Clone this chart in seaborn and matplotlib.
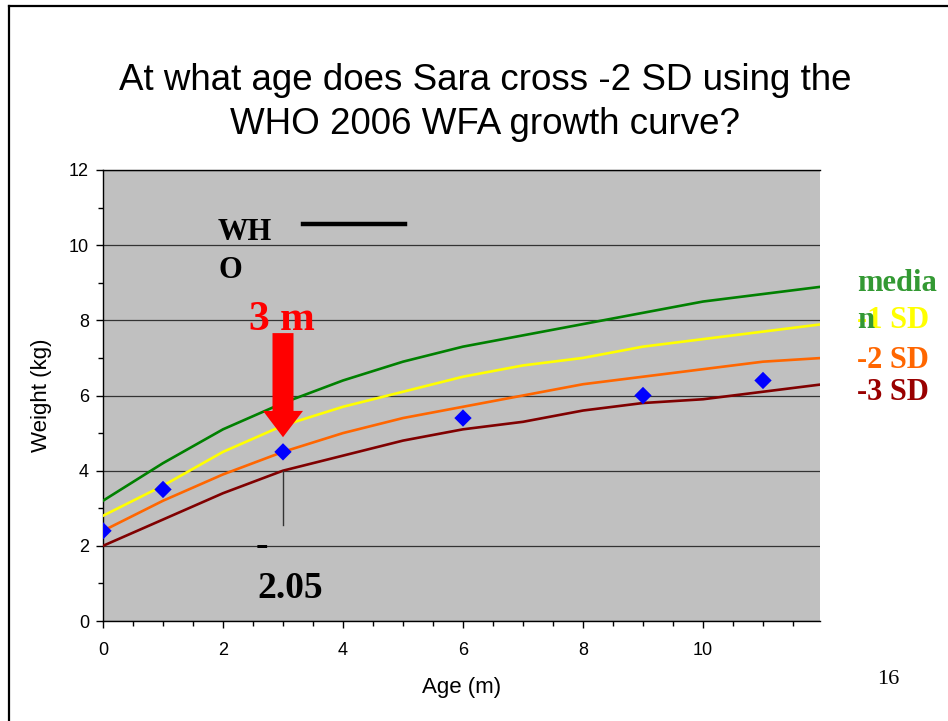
import numpy as np
import pandas as pd
import matplotlib
matplotlib.use("Agg")
import matplotlib.pyplot as plt
from matplotlib.patches import Polygon
from matplotlib.lines import Line2D
from matplotlib.ticker import MultipleLocator
import seaborn as sns

# ---------------- data ----------------
age_months = [0, 1, 2, 3, 4, 5, 6, 7, 8, 9, 10, 11, 12]
median = [3.2, 4.2, 5.1, 5.8, 6.4, 6.9, 7.3, 7.6, 7.9, 8.2, 8.5, 8.7, 8.9]
minus1sd = [2.8, 3.6, 4.5, 5.2, 5.7, 6.1, 6.5, 6.8, 7.0, 7.3, 7.5, 7.7, 7.9]
minus2sd = [2.4, 3.2, 3.9, 4.5, 5.0, 5.4, 5.7, 6.0, 6.3, 6.5, 6.7, 6.9, 7.0]
minus3sd = [2.0, 2.7, 3.4, 4.0, 4.4, 4.8, 5.1, 5.3, 5.6, 5.8, 5.9, 6.1, 6.3]
sara_age = [0, 1, 3, 6, 9, 11]
sara_weight = [2.4, 3.5, 4.5, 5.4, 6.0, 6.4]
curve_names = ["median", "-1 SD", "-2 SD", "-3 SD"]
x_ticks = [0, 2, 4, 6, 8, 10]
y_ticks = [0, 2, 4, 6, 8, 10, 12]
title_lines = ["At what age does Sara cross -2 SD using the", "WHO 2006 WFA growth curve?"]

line_colors = {"median": "#008000", "-1 SD": "#FFFF00", "-2 SD": "#FF6600", "-3 SD": "#800000"}
text_colors = {"median": "#339933", "-1 SD": "#FFFF00", "-2 SD": "#FF6600", "-3 SD": "#990000"}

curves = pd.DataFrame({
    "age": age_months * 4,
    "weight": median + minus1sd + minus2sd + minus3sd,
    "curve": sum([[n] * len(age_months) for n in curve_names], []),
})
sara = pd.DataFrame({"age": sara_age, "weight": sara_weight})

# ---------------- figure ----------------
W, H = 948, 721
fig = plt.figure(figsize=(W / 100, H / 100), dpi=100)
fig.patch.set_facecolor("white")

def fx(px):
    return px / W

def fy(py):
    return 1 - py / H

ax_l, ax_r, ax_t, ax_b = 103, 820, 170, 621
ax = fig.add_axes([fx(ax_l), fy(ax_b), (ax_r - ax_l) / W, (ax_b - ax_t) / H])
ax.set_facecolor("#C0C0C0")

sns.lineplot(data=curves, x="age", y="weight", hue="curve", palette=line_colors,
             hue_order=curve_names, linewidth=1.9, legend=False, ax=ax, zorder=3)
sns.scatterplot(data=sara, x="age", y="weight", marker="D", s=78, color="#0000FF",
                edgecolor="none", linewidth=0, ax=ax, zorder=5, legend=False)

ax.set_xlim(0, (ax_r - ax_l) / 60.0)
ax.set_ylim(0, 12)
ax.set_xticks(x_ticks)
ax.set_yticks(y_ticks)
ax.xaxis.set_minor_locator(MultipleLocator(0.5))
ax.yaxis.set_minor_locator(MultipleLocator(1))
ax.grid(True, which="major", axis="y", color="#333333", linewidth=0.9, zorder=1)
ax.set_axisbelow(True)
ax.spines["right"].set_visible(False)
for s in ["left", "bottom", "top"]:
    ax.spines[s].set_color("black")
    ax.spines[s].set_linewidth(1.0)
ax.tick_params(axis="both", which="major", length=5, width=1, color="black",
               labelsize=13, labelcolor="black", direction="out")
ax.tick_params(axis="both", which="minor", length=3.5, width=1, color="black", direction="out")
ax.tick_params(axis="x", which="major", pad=10)
ax.tick_params(axis="y", which="major", pad=5)
for lab in ax.get_xticklabels() + ax.get_yticklabels():
    lab.set_fontfamily("Liberation Sans")

ax.set_xlabel("Age (m)", fontsize=16, fontfamily="Liberation Sans")
ax.set_ylabel("Weight (kg)", fontsize=16, fontfamily="Liberation Sans")
ax.xaxis.set_label_coords(0.5, (ax_b - 687) / (ax_b - ax_t))
ax.xaxis.label.set_va("center")
ax.yaxis.set_label_coords((42 - ax_l) / (ax_r - ax_l), 0.5)
ax.yaxis.label.set_va("center")

# vertical marker line at 3 months
ax.plot([3, 3], [4.0, 2.55], color="#333333", linewidth=1.0, zorder=4)

# red arrow (annotation)
tip_x, tip_y, head_y, shaft_top = 3.0, 4.89, 5.59, 7.66
shaft_hw, head_hw = 0.175, 0.333
arrow = Polygon([[tip_x - shaft_hw, shaft_top], [tip_x + shaft_hw, shaft_top],
                 [tip_x + shaft_hw, head_y], [tip_x + head_hw, head_y],
                 [tip_x, tip_y], [tip_x - head_hw, head_y], [tip_x - shaft_hw, head_y]],
                closed=True, facecolor="#FF0000", edgecolor="none", zorder=6)
ax.add_patch(arrow)

serif = "Liberation Serif"
# title
fig.text(fx(485), fy(80), title_lines[0], ha="center", va="center", fontsize=26.5,
         fontfamily="Liberation Sans", color="black")
fig.text(fx(485), fy(124), title_lines[1], ha="center", va="center", fontsize=26.5,
         fontfamily="Liberation Sans", color="black")

# annotations inside chart
fig.text(fx(218), fy(232), "WH", ha="left", va="center", fontsize=22, fontweight="bold",
         fontfamily=serif, color="black")
fig.text(fx(218), fy(270), "O", ha="left", va="center", fontsize=22, fontweight="bold",
         fontfamily=serif, color="black")
fig.add_artist(Line2D([fx(303), fx(405)], [fy(224), fy(224)], color="black", linewidth=3.2))
fig.text(fx(282), fy(320), "3 m", ha="center", va="center", fontsize=30, fontweight="bold",
         fontfamily=serif, color="#FF0000")
fig.text(fx(262), fy(546), "-", ha="center", va="center", fontsize=27, fontweight="bold",
         fontfamily=serif, color="black")
fig.text(fx(290), fy(588), "2.05", ha="center", va="center", fontsize=27, fontweight="bold",
         fontfamily=serif, color="black")

# right side labels
fig.text(fx(857), fy(283), "media", ha="left", va="center", fontsize=22, fontweight="bold",
         fontfamily=serif, color=text_colors["median"])
fig.text(fx(857), fy(320), "-1 SD", ha="left", va="center", fontsize=22, fontweight="bold",
         fontfamily=serif, color=text_colors["-1 SD"])
fig.text(fx(857), fy(320), "n", ha="left", va="center", fontsize=22, fontweight="bold",
         fontfamily=serif, color=text_colors["median"])
fig.text(fx(857), fy(360), "-2 SD", ha="left", va="center", fontsize=22, fontweight="bold",
         fontfamily=serif, color=text_colors["-2 SD"])
fig.text(fx(857), fy(392), "-3 SD", ha="left", va="center", fontsize=22, fontweight="bold",
         fontfamily=serif, color=text_colors["-3 SD"])

# slide number
fig.text(fx(888), fy(679), "16", ha="center", va="center", fontsize=16,
         fontfamily=serif, color="black")

# slide frame (top and left edges)
fig.add_artist(Line2D([fx(9), 1.0], [fy(6), fy(6)], color="black", linewidth=1.6))
fig.add_artist(Line2D([fx(9), fx(9)], [fy(6), 0.0], color="black", linewidth=1.6))

fig.savefig("out.png", dpi=100, facecolor="white")
